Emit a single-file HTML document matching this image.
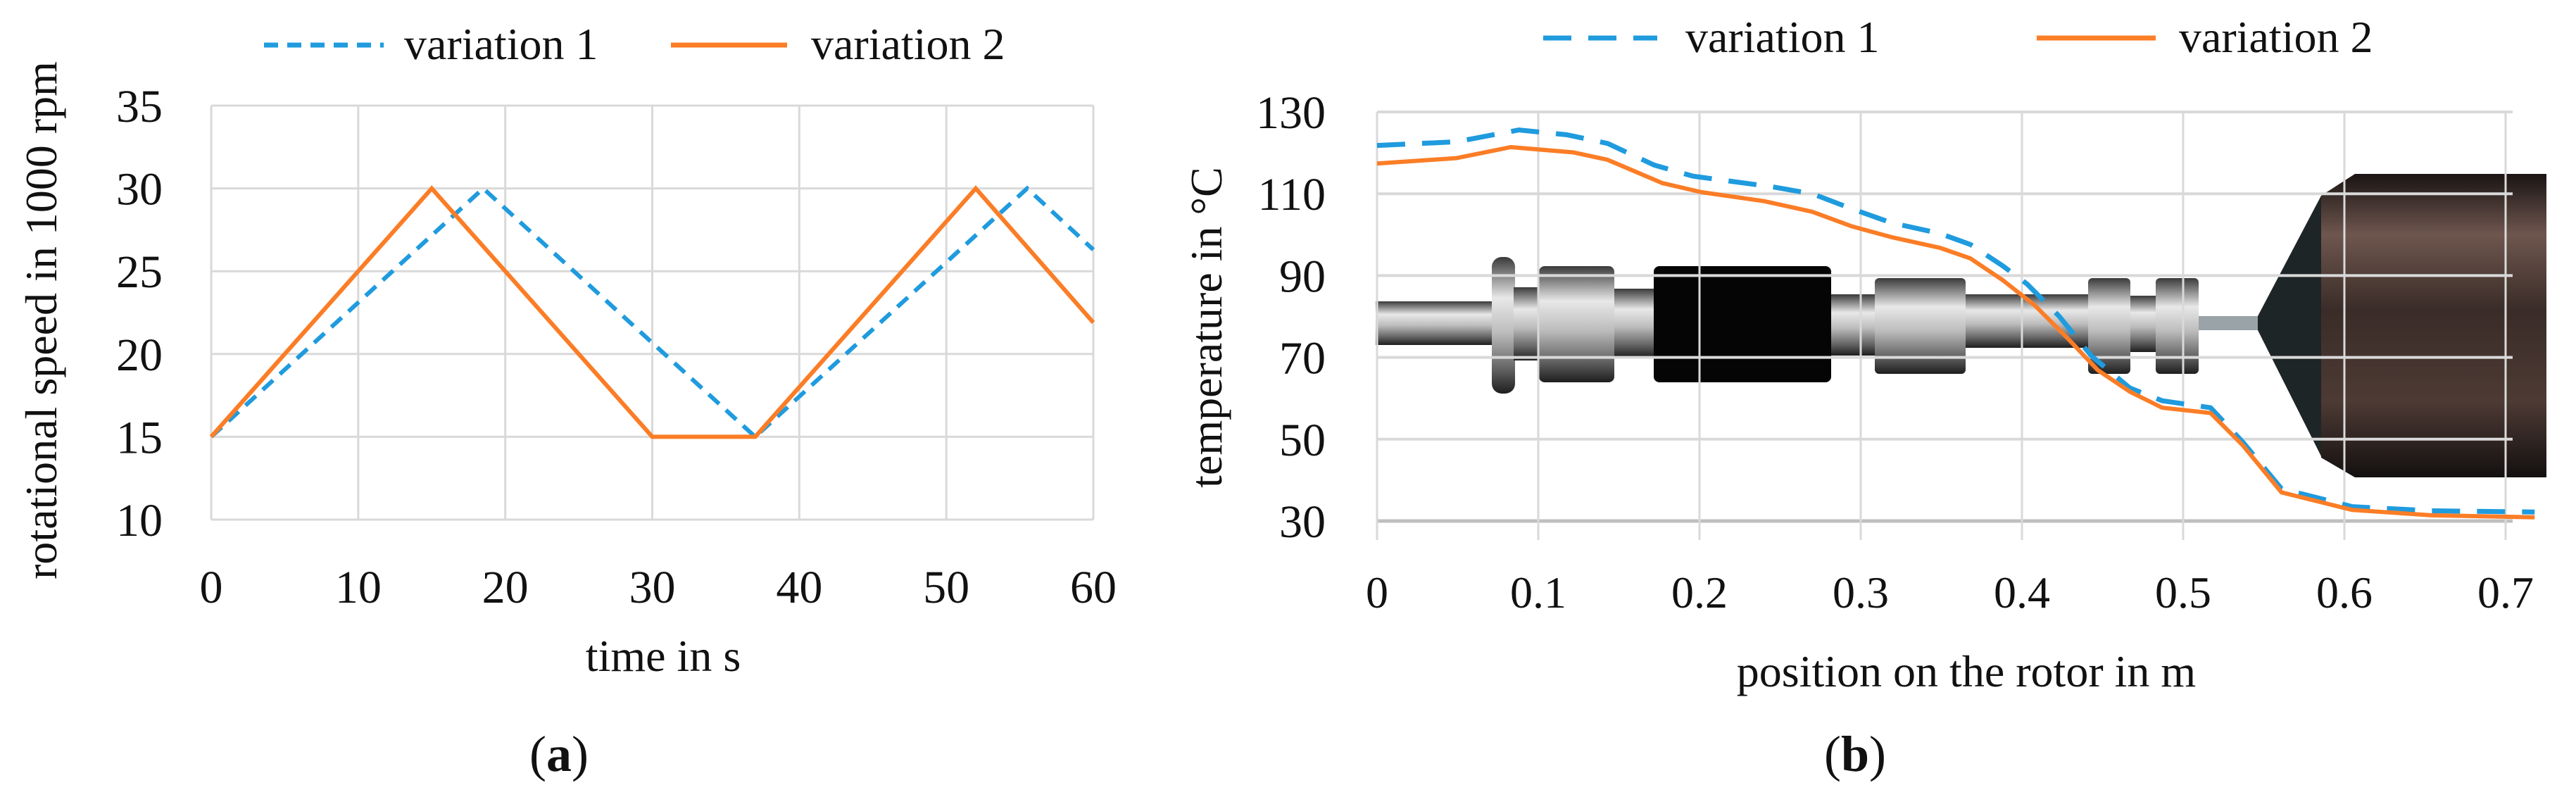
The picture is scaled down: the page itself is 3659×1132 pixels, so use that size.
<!DOCTYPE html>
<html><head><meta charset="utf-8"><style>
html,body{margin:0;padding:0;background:#fff;}
svg{display:block;}
svg text{font-family:"Liberation Serif","DejaVu Serif",serif;}
</style></head><body>
<svg id="fig" width="3659" height="1132" viewBox="0 0 3659 1132" xmlns="http://www.w3.org/2000/svg" font-family="Liberation Serif, serif">
<defs>
<linearGradient id="wheelG" x1="0" y1="0" x2="0" y2="1">
<stop offset="0" stop-color="#1a1414"/><stop offset="0.2" stop-color="#6e564e"/><stop offset="0.45" stop-color="#3a2c28"/><stop offset="0.75" stop-color="#4d3a34"/><stop offset="1" stop-color="#141010"/></linearGradient>
<linearGradient id="metalG" x1="0" y1="0" x2="0" y2="1">
<stop offset="0" stop-color="#3a3a3a"/><stop offset="0.3" stop-color="#e8e8e8"/><stop offset="0.55" stop-color="#bdbdbd"/><stop offset="0.8" stop-color="#6a6a6a"/><stop offset="1" stop-color="#1e1e1e"/></linearGradient>
</defs>
<g id="chartA"></g>
<g id="chartB"></g>
</svg>
<script>
// ---- Chart A data ----
const aTimes1 = [0, 18.5, 37, 55.5, 60];
const aSpeed1 = [15, 30, 15, 30, 26.3];
const aTimes2 = [0, 15, 30, 37, 52, 60];
const aSpeed2 = [15, 30, 15, 15, 30, 21.9];
const aXTicks = [0, 10, 20, 30, 40, 50, 60];
const aYTicks = [10, 15, 20, 25, 30, 35];
// ---- Chart B data ----
const bPos1 = [0, 0.049, 0.088, 0.118, 0.143, 0.172, 0.196, 0.245, 0.27, 0.294, 0.319, 0.349, 0.368, 0.388, 0.403, 0.423, 0.443, 0.467, 0.487, 0.517, 0.537, 0.561, 0.605, 0.654, 0.718];
const bTemp1 = [121.8, 122.7, 125.6, 124.4, 122.3, 117, 114.3, 111.7, 110, 106.4, 102.9, 100.3, 97.6, 92.4, 88, 80.1, 70.4, 62.5, 59.4, 57.7, 49.3, 37.9, 33.5, 32.5, 32.2];
const bPos2 = [0, 0.049, 0.083, 0.122, 0.143, 0.177, 0.201, 0.24, 0.27, 0.294, 0.319, 0.349, 0.368, 0.388, 0.408, 0.428, 0.447, 0.467, 0.487, 0.517, 0.537, 0.561, 0.605, 0.654, 0.718];
const bTemp2 = [117.4, 118.7, 121.4, 120.1, 118.3, 112.6, 110.4, 108.2, 105.6, 102.1, 99.4, 96.8, 94.2, 88.9, 82.7, 74.8, 66.9, 61.6, 57.7, 56.4, 48.5, 37, 32.7, 31.4, 30.9];
const bXTicks = [0, 0.1, 0.2, 0.3, 0.4, 0.5, 0.6, 0.7];
const bYTicks = [30, 50, 70, 90, 110, 130];

const NS = "http://www.w3.org/2000/svg";
const BLUE = "#1f9bde", ORANGE = "#fb7d26";
const FONT = '"Liberation Serif", "DejaVu Serif", serif';
function mk(parent, tag, attrs, text) {
  const e = document.createElementNS(NS, tag);
  for (const k in attrs) e.setAttribute(k, attrs[k]);
  if (tag === 'text') e.style.fontFamily = FONT;
  if (text !== undefined) e.textContent = text;
  parent.appendChild(e);
  return e;
}

// ===== Chart A =====
(function(){
  const g = document.getElementById('chartA');
  const X0 = 300, X1 = 1553, Y0 = 738, Y1 = 150;
  const xs = v => X0 + (v - 0) / 60 * (X1 - X0);
  const ys = v => Y0 - (v - 10) / 25 * (Y0 - Y1);
  aYTicks.forEach(t => {
    const l = mk(g, 'line', {x1: X0, x2: X1, y1: ys(t), y2: ys(t), stroke: '#d9d9d9', 'stroke-width': 3});
    
    
    const tx = mk(g, 'text', {x: 231, y: ys(t) + 23, 'text-anchor': 'end', 'font-size': 66, fill: '#111'}, String(t));
    
    
  });
  aXTicks.forEach(t => {
    const l = mk(g, 'line', {x1: xs(t), x2: xs(t), y1: Y1, y2: Y0, stroke: '#d9d9d9', 'stroke-width': 3});
    
    
    const tx = mk(g, 'text', {x: xs(t), y: 856, 'text-anchor': 'middle', 'font-size': 66, fill: '#111'}, String(t));
    
    
  });
  const p1 = mk(g, 'polyline', {points: aTimes1.map((t,i)=>xs(t)+','+ys(aSpeed1[i])).join(' '), fill: 'none', stroke: BLUE, 'stroke-width': 6, 'stroke-dasharray': '20 13'});
  
  
  const p2 = mk(g, 'polyline', {points: aTimes2.map((t,i)=>xs(t)+','+ys(aSpeed2[i])).join(' '), fill: 'none', stroke: ORANGE, 'stroke-width': 6, 'stroke-linejoin': 'miter'});
  
  
  const yt = mk(g, 'text', {x: 0, y: 0, transform: 'translate(80,455) rotate(-90)', 'text-anchor': 'middle', 'font-size': 64, fill: '#111'}, 'rotational speed in 1000 rpm');
  
  
  const xt = mk(g, 'text', {x: 942, y: 953, 'text-anchor': 'middle', 'font-size': 64, fill: '#111'}, 'time in s');
  
  
  const lg1 = mk(g, 'line', {x1: 375, x2: 545, y1: 64, y2: 64, stroke: BLUE, 'stroke-width': 7, 'stroke-dasharray': '20 13'});
  
  
  const lt1 = mk(g, 'text', {x: 574, y: 84, 'font-size': 64, fill: '#111'}, 'variation 1');
  
  
  const lg2 = mk(g, 'line', {x1: 953, x2: 1118, y1: 64, y2: 64, stroke: ORANGE, 'stroke-width': 7});
  
  
  const lt2 = mk(g, 'text', {x: 1152, y: 84, 'font-size': 64, fill: '#111'}, 'variation 2');
  
  
  const cap = mk(g, 'text', {x: 794, y: 1095, 'text-anchor': 'middle', 'font-size': 72, fill: '#111'});
  
  
  cap.innerHTML = '(<tspan font-weight="bold">a</tspan>)';
})();

// ===== Chart B =====
(function(){
  const g = document.getElementById('chartB');
  const X0 = 1956, X1 = 3559, Y0 = 740, Y1 = 159;
  const xs = v => X0 + v / 0.7 * (X1 - X0);
  const ys = v => Y0 - (v - 30) / 100 * (Y0 - Y1);
  const img = mk(g, 'g', {});
  
  
  mk(img, 'rect', {x: 1954, y: 428, width: 170, height: 62, fill: 'url(#metalG)'});
  mk(img, 'rect', {x: 2119, y: 365, width: 33, height: 194, rx: 14, fill: 'url(#metalG)'});
  mk(img, 'rect', {x: 2150, y: 408, width: 40, height: 104, fill: 'url(#metalG)'});
  mk(img, 'rect', {x: 2186, y: 378, width: 107, height: 165, rx: 8, fill: 'url(#metalG)'});
  mk(img, 'rect', {x: 2293, y: 410, width: 58, height: 98, fill: 'url(#metalG)'});
  mk(img, 'rect', {x: 2349, y: 378, width: 252, height: 165, rx: 8, fill: '#050505'});
  mk(img, 'rect', {x: 2601, y: 418, width: 62, height: 87, fill: 'url(#metalG)'});
  mk(img, 'rect', {x: 2663, y: 395, width: 129, height: 136, rx: 6, fill: 'url(#metalG)'});
  mk(img, 'rect', {x: 2792, y: 418, width: 174, height: 76, fill: 'url(#metalG)'});
  mk(img, 'rect', {x: 2966, y: 395, width: 60, height: 136, rx: 6, fill: 'url(#metalG)'});
  mk(img, 'rect', {x: 3026, y: 420, width: 36, height: 80, fill: 'url(#metalG)'});
  mk(img, 'rect', {x: 3062, y: 395, width: 61, height: 136, rx: 6, fill: 'url(#metalG)'});
  mk(img, 'rect', {x: 3123, y: 449, width: 84, height: 20, fill: '#9aa3a8'});
  mk(img, 'polygon', {points: '3207,449 3297,278 3297,648 3207,469', fill: '#1e2526'});
  mk(img, 'polygon', {points: '3297,278 3345,247 3617,247 3617,678 3345,678 3297,650', fill: 'url(#wheelG)'});
  bYTicks.forEach(t => {
    const l = mk(g, 'line', {x1: X0, x2: X1 + 10, y1: ys(t), y2: ys(t), stroke: t === 30 ? '#bfbfbf' : '#d9d9d9', 'stroke-width': t === 30 ? 5 : 4});
    
    
    const tx = mk(g, 'text', {x: 1883, y: ys(t) + 23, 'text-anchor': 'end', 'font-size': 66, fill: '#111'}, String(t));
    
    
  });
  bXTicks.forEach(t => {
    const l = mk(g, 'line', {x1: xs(t), x2: xs(t), y1: Y1, y2: 767, stroke: '#d9d9d9', 'stroke-width': 3});
    
    
    const tx = mk(g, 'text', {x: xs(t), y: 863, 'text-anchor': 'middle', 'font-size': 64, fill: '#111'}, String(t));
    
    
  });
  const p1 = mk(g, 'polyline', {points: bPos1.map((t,i)=>xs(t)+','+ys(bTemp1[i])).join(' '), fill: 'none', stroke: BLUE, 'stroke-width': 7, 'stroke-dasharray': '40 24', 'stroke-linejoin': 'round'});
  
  
  const p2 = mk(g, 'polyline', {points: bPos2.map((t,i)=>xs(t)+','+ys(bTemp2[i])).join(' '), fill: 'none', stroke: ORANGE, 'stroke-width': 6, 'stroke-linejoin': 'round'});
  
  
  const yt = mk(g, 'text', {x: 0, y: 0, transform: 'translate(1735,465) rotate(-90)', 'text-anchor': 'middle', 'font-size': 64, fill: '#111'}, 'temperature in °C');
  
  
  const xt = mk(g, 'text', {x: 2793, y: 975, 'text-anchor': 'middle', 'font-size': 64, fill: '#111'}, 'position on the rotor in m');
  
  
  const lg1 = mk(g, 'line', {x1: 2192, x2: 2354, y1: 54, y2: 54, stroke: BLUE, 'stroke-width': 7, 'stroke-dasharray': '40 24'});
  
  
  const lt1 = mk(g, 'text', {x: 2394, y: 74, 'font-size': 64, fill: '#111'}, 'variation 1');
  
  
  const lg2 = mk(g, 'line', {x1: 2893, x2: 3062, y1: 54, y2: 54, stroke: ORANGE, 'stroke-width': 7});
  
  
  const lt2 = mk(g, 'text', {x: 3095, y: 74, 'font-size': 64, fill: '#111'}, 'variation 2');
  
  
  const cap = mk(g, 'text', {x: 2635, y: 1095, 'text-anchor': 'middle', 'font-size': 72, fill: '#111'});
  
  
  cap.innerHTML = '(<tspan font-weight="bold">b</tspan>)';
})();
</script>
</body></html>
